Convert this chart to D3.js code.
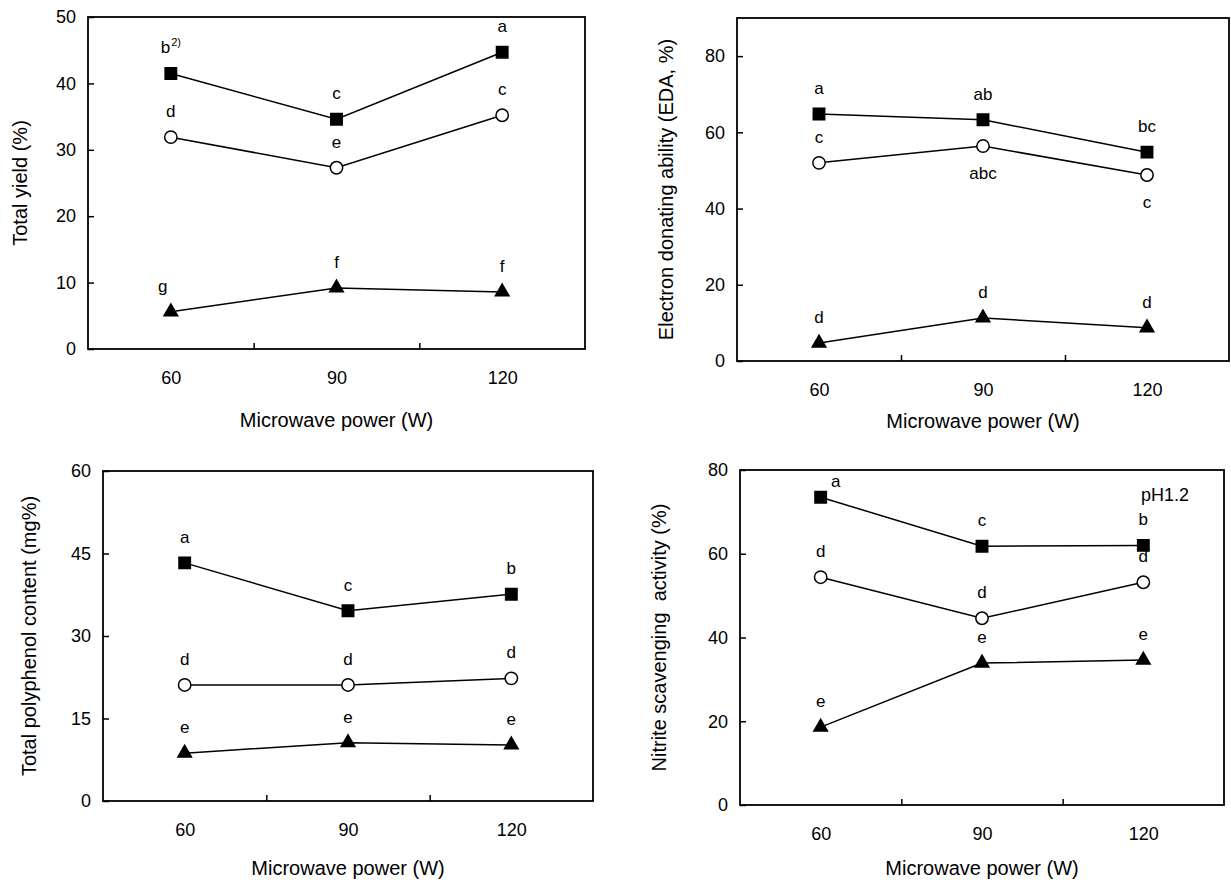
<!DOCTYPE html>
<html>
<head>
<meta charset="utf-8">
<script src="https://cdn.jsdelivr.net/npm/d3@7"></script>
<style>
  body { margin: 0; background: #fff; }
  text { font-family: "Liberation Sans", Arial, sans-serif; fill: #000; }
</style>
</head>
<body>
<script>
// x values and tick labels (same for every panel)
var power = [60, 90, 120];
var xTickLabels = [60, 90, 120];
var xMinorTicks = [75, 105];

// Total yield (%)
var yieldSquare = [41.5, 34.6, 44.7];
var yieldCircle = [31.9, 27.3, 35.2];
var yieldTriangle = [5.6, 9.2, 8.6];
var yieldSquareLetters = ["b^2)", "c", "a"];
var yieldCircleLetters = ["d", "e", "c"];
var yieldTriangleLetters = ["g", "f", "f"];
var yieldTicks = [0, 10, 20, 30, 40, 50];

// Electron donating ability (EDA, %)
var edaSquare = [64.8, 63.3, 54.8];
var edaCircle = [52.0, 56.4, 48.8];
var edaTriangle = [4.7, 11.3, 8.7];
var edaSquareLetters = ["a", "ab", "bc"];
var edaCircleLetters = ["c", "abc", "c"];
var edaTriangleLetters = ["d", "d", "d"];
var edaTicks = [0, 20, 40, 60, 80];

// Total polyphenol content (mg%)
var polySquare = [43.3, 34.6, 37.6];
var polyCircle = [21.1, 21.1, 22.3];
var polyTriangle = [8.7, 10.6, 10.2];
var polySquareLetters = ["a", "c", "b"];
var polyCircleLetters = ["d", "d", "d"];
var polyTriangleLetters = ["e", "e", "e"];
var polyTicks = [0, 15, 30, 45, 60];

// Nitrite scavenging activity (%)
var nitSquare = [73.5, 61.8, 62.0];
var nitCircle = [54.4, 44.6, 53.2];
var nitTriangle = [18.6, 33.9, 34.6];
var nitSquareLetters = ["a", "c", "b"];
var nitCircleLetters = ["d", "d", "d"];
var nitTriangleLetters = ["e", "e", "e"];
var nitTicks = [0, 20, 40, 60, 80];

var font = "Liberation Sans, Arial, sans-serif";

// panel settings: box in pixels, y range, where letters go
var panels = [
  { title: "Total yield (%)", yMax: 50, ticks: yieldTicks,
    box: { left: 88, right: 585, top: 17, bottom: 349 }, titleX: 20, xTitleY: 427,
    series: [
      { shape: "square", values: yieldSquare, letters: yieldSquareLetters },
      { shape: "circle", values: yieldCircle, letters: yieldCircleLetters },
      { shape: "triangle", values: yieldTriangle, letters: yieldTriangleLetters, place: ["upleft", "up", "up"] }
    ] },
  { title: "Electron donating ability (EDA, %)", yMax: 90, ticks: edaTicks,
    box: { left: 737, right: 1229, top: 18, bottom: 361 }, titleX: 666, xTitleY: 428,
    series: [
      { shape: "square", values: edaSquare, letters: edaSquareLetters },
      { shape: "circle", values: edaCircle, letters: edaCircleLetters, place: ["up", "down", "down"] },
      { shape: "triangle", values: edaTriangle, letters: edaTriangleLetters }
    ] },
  { title: "Total polyphenol content (mg%)", yMax: 60, ticks: polyTicks,
    box: { left: 103, right: 593, top: 471, bottom: 801 }, titleX: 29, xTitleY: 875,
    series: [
      { shape: "square", values: polySquare, letters: polySquareLetters },
      { shape: "circle", values: polyCircle, letters: polyCircleLetters },
      { shape: "triangle", values: polyTriangle, letters: polyTriangleLetters }
    ] },
  { title: "Nitrite scavenging  activity (%)", yMax: 80, ticks: nitTicks,
    box: { left: 740, right: 1224, top: 470, bottom: 805 }, titleX: 659, xTitleY: 875, note: "pH1.2",
    series: [
      { shape: "square", values: nitSquare, letters: nitSquareLetters, place: ["upright", "up", "up"] },
      { shape: "circle", values: nitCircle, letters: nitCircleLetters },
      { shape: "triangle", values: nitTriangle, letters: nitTriangleLetters }
    ] }
];

var svg = d3.select("body").append("svg").attr("width", 1231).attr("height", 883);

var symbols = {
  square: d3.symbol().type(d3.symbolSquare).size(130),
  circle: d3.symbol().type(d3.symbolCircle).size(120),
  triangle: d3.symbol().type(d3.symbolTriangle).size(80)
};

panels.forEach(function (p) {
  var b = p.box;
  var x = d3.scaleLinear().domain([45, 135]).range([b.left, b.right]);
  var y = d3.scaleLinear().domain([0, p.yMax]).range([b.bottom, b.top]);
  var g = svg.append("g");

  // y axis (ticks point inward)
  var yAxis = g.append("g").attr("transform", "translate(" + b.left + ",0)")
    .call(d3.axisLeft(y).tickValues(p.ticks).tickSizeInner(-6).tickSizeOuter(0).tickPadding(12));
  // x axis labels
  var xAxis = g.append("g").attr("transform", "translate(0," + b.bottom + ")")
    .call(d3.axisBottom(x).tickValues(xTickLabels).tickSize(0).tickPadding(22));
  // x minor ticks (no labels)
  var xMinor = g.append("g").attr("transform", "translate(0," + b.bottom + ")")
    .call(d3.axisBottom(x).tickValues(xMinorTicks).tickSizeInner(-6).tickSizeOuter(0).tickFormat(""));

  [yAxis, xAxis, xMinor].forEach(function (a) {
    a.select(".domain").remove();
    a.selectAll("line").attr("stroke", "#000").attr("stroke-width", 1.5);
    a.selectAll("text").attr("font-size", 18).attr("font-family", font).attr("fill", "#000");
  });

  // frame
  g.append("rect")
    .attr("x", b.left).attr("y", b.top)
    .attr("width", b.right - b.left).attr("height", b.bottom - b.top)
    .attr("fill", "none").attr("stroke", "#000").attr("stroke-width", 1.8);

  // axis titles
  g.append("text")
    .attr("transform", "translate(" + p.titleX + "," + ((b.top + b.bottom) / 2) + ") rotate(-90)")
    .attr("text-anchor", "middle").attr("dy", "0.35em")
    .attr("font-size", 20).style("white-space", "pre")
    .text(p.title);
  g.append("text")
    .attr("x", (b.left + b.right) / 2).attr("y", p.xTitleY)
    .attr("text-anchor", "middle").attr("font-size", 20)
    .text("Microwave power (W)");

  if (p.note) {
    g.append("text").attr("x", b.right - 59).attr("y", b.top + 31)
      .attr("text-anchor", "middle").attr("font-size", 18).text(p.note);
  }

  var line = d3.line().x(function (d) { return x(d.p); }).y(function (d) { return y(d.v); });

  p.series.forEach(function (s) {
    var pts = power.map(function (pw, i) {
      return { p: pw, v: s.values[i], t: s.letters[i], place: s.place ? s.place[i] : "up" };
    });

    g.append("path").datum(pts).attr("d", line)
      .attr("fill", "none").attr("stroke", "#000").attr("stroke-width", 1.5);

    g.selectAll(null).data(pts).enter().append("path")
      .attr("transform", function (d) { return "translate(" + x(d.p) + "," + y(d.v) + ")"; })
      .attr("d", symbols[s.shape])
      .attr("fill", s.shape === "circle" ? "#fff" : "#000")
      .attr("stroke", "#000").attr("stroke-width", 1.5);

    // significance letters
    var lab = g.selectAll(null).data(pts).enter().append("text")
      .attr("font-size", 17).attr("text-anchor", "middle")
      .attr("x", function (d) {
        var dx = d.place === "upright" ? 15 : (d.place === "upleft" ? -8 : 0);
        return x(d.p) + dx;
      })
      .attr("y", function (d) {
        if (d.place === "down") return y(d.v) + 33;
        if (d.place === "upright") return y(d.v) - 10;
        return y(d.v) - 20;
      });
    lab.each(function (d) {
      var parts = d.t.split("^");
      var t = d3.select(this);
      t.append("tspan").text(parts[0]);
      if (parts[1]) {
        t.append("tspan").attr("font-size", 11).attr("dy", -7).attr("dx", 1).text(parts[1]);
      }
    });
  });
});
</script>
</body>
</html>
